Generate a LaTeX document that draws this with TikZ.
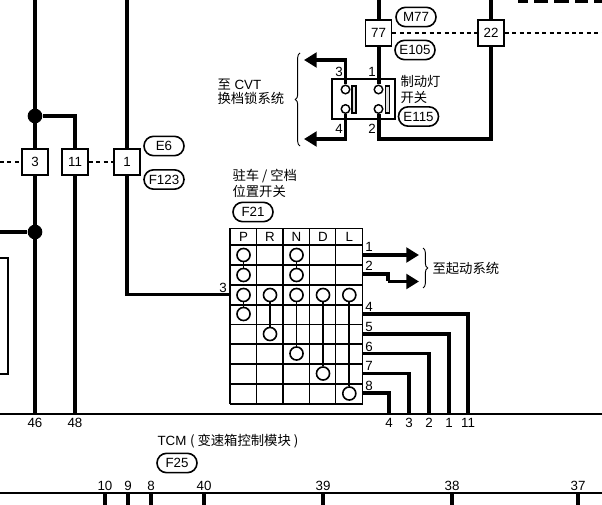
\documentclass[tikz,border=0pt]{standalone}
\usepackage{fontspec}
\setmainfont{Liberation Sans}
\newfontfamily\cjk{Noto Sans CJK SC}
\usetikzlibrary{arrows.meta,decorations.pathreplacing}

\tikzset{every picture/.style={line width=0.75pt}}
\tikzset{
	wire/.style={line width=3pt,line join=miter},
	thinwire/.style={line width=2.6pt,line join=miter},
	link/.style={line width=1.4pt},
	arrowwire/.style={wire,-{Triangle[length=9.5pt,width=11pt]}},
	dashwire/.style={line width=0.8pt,dash pattern={on 3pt off 2.6pt}},
	pinbox/.style={draw,line width=1.2pt,fill=white,minimum size=19.5pt,inner sep=0pt,font=\fontsize{10pt}{10pt}\selectfont},
	connector/.style={draw,line width=1.2pt,rounded corners=7.2pt,fill=white,minimum width=30pt,minimum height=14.5pt,inner sep=0pt,font=\fontsize{10pt}{10pt}\selectfont},
	dot/.style={circle,fill=black,minimum size=11pt,inner sep=0pt},
	contact/.style={circle,draw,line width=1.2pt,fill=white,minimum size=9.8pt,inner sep=0pt},
	terminal/.style={circle,draw,line width=1.1pt,fill=white,minimum size=6.4pt,inner sep=0pt},
	label/.style={inner sep=0.75pt,font=\fontsize{10pt}{10pt}\selectfont},
	bracket/.style={line width=0.7pt,decorate,decoration={brace,amplitude=3.5pt}},
}

\begin{document}
\begin{tikzpicture}[x=0.75pt,y=0.75pt,yscale=-1,xscale=1]
	\useasboundingbox (0,0) rectangle (602,505);
	
	%Shape: Rectangle, black band at the top
	\fill (518,0) rectangle (602,3);
	\foreach \x in {528,548,569,588}
		\fill [white] (\x,0) rectangle (\x+6,3);
	
	%Free ends
	\coordinate (topleft) at (35,0);
	\coordinate (topmid) at (127,0);
	\coordinate (topseven) at (378.5,0);
	\coordinate (toptwo) at (491,0);
	\coordinate (leftend) at (0,232);
	\coordinate (dashleft) at (0,162);
	\coordinate (dashright) at (602,33);
	\coordinate (busa) at (0,414);
	\coordinate (busb) at (602,414);
	\coordinate (busc) at (0,493);
	\coordinate (busd) at (602,493);
	\coordinate (pinin) at (230,294.5);
	\coordinate (bendb) at (378.5,139);
	\coordinate (bendc) at (491,139);
	\coordinate (tipc) at (304,60);
	\coordinate (tipd) at (304,139);
	\coordinate (outa) at (363,255);
	\coordinate (outb) at (363,274);
	\coordinate (bendf) at (388,281.5);
	\coordinate (tipa) at (419,255);
	\coordinate (tipb) at (419,281.5);
	
	%Shape: Pin boxes
	\node (boxthree) [pinbox] at (35,162) {3};
	\node (boxeleven) [pinbox] at (75,162) {11};
	\node (boxone) [pinbox] at (127,162) {1};
	\node (boxseven) [pinbox] at (378.5,33) {77};
	\node (boxtwo) [pinbox] at (491,33) {22};
	
	%Shape: Junctions
	\node (dotup) [dot] at (35,116) {};
	\node (dotlow) [dot] at (35,232) {};
	
	%Straight Lines, left part
	\draw [wire] (topleft) -- (boxthree);
	\draw [wire] (boxthree) -- (35,414);
	\draw [thinwire] (dotup) -| (boxeleven);
	\draw [thinwire] (boxeleven) -- (75,414);
	\draw [wire] (leftend) -- (dotlow);
	\draw [thinwire] (topmid) -- (boxone);
	\draw [thinwire] (boxone) |- (pinin);
	\draw [dashwire] (dashleft) -- (boxthree);
	\draw [dashwire] (boxeleven) -- (boxone);
	\draw [line width=1pt] (0,258) -- (8,258) -- (8,374) -- (0,374);
	
	%Straight Lines, bus bars
	\draw [line width=1.3pt] (busa) -- (busb);
	\draw [line width=1.3pt] (busc) -- (busd);
	\foreach \x/\n in {105/10,128/9,151/8,204/40,323/39,452/38,578/37} {
		\draw [line width=2.4pt] (\x,493) -- (\x,505);
		\draw (\x,485.5) node (tcm\n) [label] {\n};
	}
	\foreach \x/\n in {35/46,75/48,389/4,409/3,429/2,449/1,468/11}
		\draw (\x,423) node (bus\n) [label] {\n};
	
	%Shape: Brake switch
	\node (switch) [draw,line width=1pt,minimum width=47.2pt,minimum height=30pt,inner sep=0pt] at (363.5,99) {};
	\node (termc) [terminal] at (345.5,89.5) {};
	\node (termd) [terminal] at (345.5,109) {};
	\node (terma) [terminal] at (378.5,89.5) {};
	\node (termb) [terminal] at (378.5,109) {};
	\draw [line width=1pt,fill=black!12] (352,86) rectangle (356,113);
	\draw [line width=1pt,fill=black!12] (385.5,86) rectangle (389.5,113);
	\draw [wire] (boxseven) -- (terma);
	\draw [wire] (boxseven) -- (topseven);
	\draw [wire] (boxtwo) -- (toptwo);
	\draw [wire] (boxtwo) -- (bendc) -- (bendb) -- (termb);
	\draw [dashwire] (boxseven) -- (boxtwo);
	\draw [dashwire] (boxtwo) -- (dashright);
	\draw [arrowwire,line width=2.6pt] (termc) |- (tipc);
	\draw [arrowwire,line width=2.6pt] (termd) |- (tipd);
	\draw [bracket] (300,146) -- (300,53);
	
	%Shape: Contact table
	\foreach \y in {228.5,245,265,285,305,324.5,344,364,384,404}
		\draw [line width=1pt] (230,\y) -- (362.7,\y);
	\foreach \x in {230,256.6,283,309.4,335.8,362.7}
		\draw [line width=1pt] (\x,228.5) -- (\x,404);
	\foreach \x/\n in {243.5/P,270/R,296.5/N,323/D,349.3/L}
		\draw (\x,237) node (head\n) [label] {\n};
	
	%Shape: Circles
	\foreach \n/\x/\y in {pa/243.5/255,pb/243.5/275,pc/243.5/295,pd/243.5/314,
		na/296.5/255,nb/296.5/275,nc/296.5/295,nd/296.5/353.5,
		ra/270/295,rb/270/334,da/323/295,db/323/373.5,la/349.3/295,lb/349.3/393.5}
		\node (\n) [contact] at (\x,\y) {};
	\foreach \a/\b in {pa/pb,pc/pd,na/nb,ra/rb,nc/nd,da/db,la/lb}
		\draw [link] (\a) -- (\b);
	
	%Straight Lines, right of the table
	\draw [arrowwire] (outa) -- (tipa);
	\draw [thinwire] (outb) -| (bendf);
	\draw [arrowwire,line width=2.6pt] (bendf) -- (tipb);
	\foreach \n/\y/\x/\t in {e/314/468/11,f/334/449/1,g/353.5/429/2,h/373.5/409/3,i/393/389/4} {
		\coordinate (out\n) at (363,\y);
		\draw [thinwire] (out\n) -| (\x,414);
	}
	\draw [bracket] (423,248) -- (423,288);
	
	% Text Node
	\foreach \y/\n in {247/1,266/2,307/4,327/5,346.5/6,366/7,386/8}
		\draw (369,\y) node (pin\n) [label] {\n};
	\draw (223,288) node (pinthree) [label] {3};
	\draw (339,72) node (swthree) [label] {3};
	\draw (372,72) node (swone) [label] {1};
	\draw (339,129) node (swfour) [label] {4};
	\draw (372,129) node (swtwo) [label] {2};
	% Text Node
	\node (mseven) [connector] at (416,17) {M77};
	\node (efive) [connector] at (415,50) {E105};
	\node (efif) [connector] at (418.5,116.5) {E115};
	\node (esix) [connector] at (164,146) {E6};
	\node (ftwo) [connector] at (164,179.5) {F123};
	\node (ftwone) [connector] at (253,212) {F21};
	\node (ftwfive) [connector] at (177,463) {F25};
	% Text Node
	\draw (216,85) node (cvta) [label,anchor=west] {{\cjk 至} CVT};
	\draw (216,98) node (cvtb) [label,anchor=west] {\cjk 换档锁系统};
	\draw (399,81) node (brakea) [label,anchor=west] {\cjk 制动灯};
	\draw (399,97) node (brakeb) [label,anchor=west] {\cjk 开关};
	\draw (231,176) node (parka) [label,anchor=west] {\cjk 驻车 / 空档};
	\draw (231,191) node (parkb) [label,anchor=west] {\cjk 位置开关};
	\draw (431,268) node (start) [label,anchor=west] {\cjk 至起动系统};
	\draw (156,441.5) node (tcm) [label,anchor=west] {TCM {\cjk ( 变速箱控制模块 )}};
	
\end{tikzpicture}
\end{document}
